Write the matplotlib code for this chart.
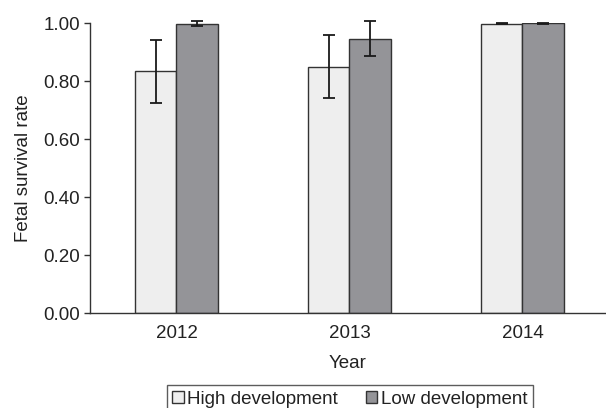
import matplotlib
matplotlib.use("Agg")
import matplotlib.pyplot as plt
import numpy as np

plt.rcParams["font.family"] = ["Liberation Sans", "DejaVu Sans"]

years = ["2012", "2013", "2014"]
high_dev = [0.834, 0.849, 0.998]
high_err = [0.109, 0.108, 0.003]
low_dev = [0.998, 0.946, 0.999]
low_err = [0.008, 0.060, 0.002]
y_ticks = [0.0, 0.2, 0.4, 0.6, 0.8, 1.0]

W, H = 606, 408
fs = 13.5
fig = plt.figure(figsize=(W / 100, H / 100), dpi=100)
ax = fig.add_axes([90 / W, 1 - 313 / H, 516 / W, 290 / H])

x = np.arange(len(years))
bw = 0.238
edge = "#333333"
ax.bar(x - bw / 2, high_dev, bw, color="#eeeeee", edgecolor=edge, linewidth=1.0,
       label="High development", zorder=2)
ax.bar(x + bw / 2, low_dev, bw, color="#949498", edgecolor=edge, linewidth=1.0,
       label="Low development", zorder=2)
for xs, vals, errs in ((x - bw / 2, high_dev, high_err), (x + bw / 2, low_dev, low_err)):
    eb = ax.errorbar(xs, vals, yerr=errs, fmt="none", ecolor="#1a1a1a",
                     elinewidth=1.3, capsize=4, capthick=1.3, zorder=3)
    for art in list(eb.lines[1]) + list(eb.lines[2]):
        art.set_clip_on(False)

ax.set_xlim(-0.5, 2.483)
ax.set_ylim(0, 1.0)
ax.set_yticks(y_ticks)
ax.set_yticklabels([f"{v:.2f}" for v in y_ticks])
ax.set_xticks(x)
ax.set_xticklabels(years)

for side in ("top", "right"):
    ax.spines[side].set_visible(False)
for side in ("left", "bottom"):
    ax.spines[side].set_color("#333333")
    ax.spines[side].set_linewidth(1.0)
ax.tick_params(axis="y", direction="out", length=4, width=1.0, color="#333333",
               labelsize=fs, labelcolor="#222222", pad=3)
ax.tick_params(axis="x", length=0, labelsize=fs, labelcolor="#222222", pad=9)

ax.set_xlabel("Year", fontsize=fs, color="#222222", labelpad=9)
ax.set_ylabel("Fetal survival rate", fontsize=fs, color="#222222", labelpad=8)

leg = fig.legend(loc="upper center", bbox_to_anchor=(350 / W, 1 - 385 / H), ncol=2,
                 fontsize=fs, frameon=True, fancybox=False, edgecolor="#333333",
                 handlelength=0.6, handleheight=0.6, handletextpad=0.2,
                 columnspacing=1.5, borderpad=0.3, borderaxespad=0)
leg.get_frame().set_linewidth(1.0)
for t in leg.get_texts():
    t.set_color("#222222")

fig.savefig("out.png", dpi=100)
